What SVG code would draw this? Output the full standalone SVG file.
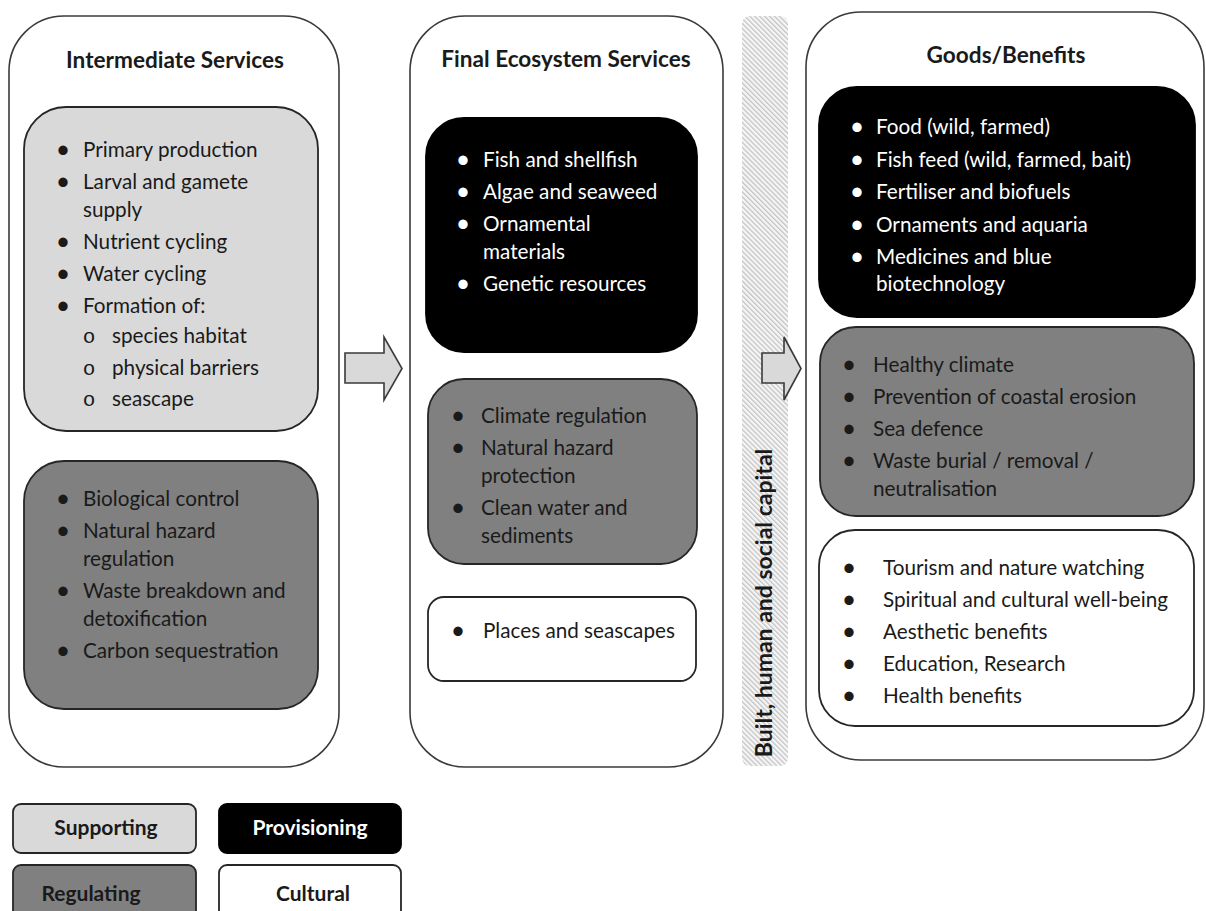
<svg xmlns="http://www.w3.org/2000/svg" width="1206" height="911" viewBox="0 0 1206 911">
<defs>
<pattern id="hatch" width="3.5" height="3.5" patternUnits="userSpaceOnUse" patternTransform="rotate(-45)">
<rect width="3.5" height="3.5" fill="#f6f6f6"/>
<rect width="1.3" height="3.5" fill="#c4c4c4"/>
</pattern>
<style>
.outer{fill:#ffffff;stroke:#3a3a3a;stroke-width:1.6}
.sup{fill:#d9d9d9;stroke:#262626;stroke-width:1.8}
.reg{fill:#808080;stroke:#262626;stroke-width:1.8}
.prov{fill:#000000;stroke:#000000;stroke-width:1.8}
.cult{fill:#ffffff;stroke:#262626;stroke-width:1.8}
.arrow{fill:#d9d9d9;stroke:#3a3a3a;stroke-width:1.6;stroke-linejoin:miter}
text{font-family:Lato,"Open Sans","Liberation Sans",sans-serif;font-size:20.7px;fill:#1a1a1a}
.title{font-weight:bold;font-size:22.6px;text-anchor:middle}
.w{fill:#ffffff}
.b{text-anchor:middle;font-size:25px}
.o{font-family:"Liberation Mono",monospace;font-size:21px;text-anchor:middle}
.leg{font-weight:bold;font-size:21px;text-anchor:middle}
</style>
</defs>
<rect width="1206" height="911" fill="#ffffff"/>

<g id="col-intermediate">
<rect class="outer" x="9" y="16" width="330" height="751" rx="55"/>
<text class="title" x="175" y="68">Intermediate Services</text>
</g>
<g id="col-final">
<rect class="outer" x="410" y="16" width="313" height="751" rx="55"/>
<text class="title" x="566" y="67">Final Ecosystem Services</text>
</g>
<g id="capital-bar">
<rect x="742" y="16" width="46" height="750" rx="8" fill="url(#hatch)"/>
<text x="772" y="603" transform="rotate(-90 772 603)" style="font-weight:bold;font-size:23px;text-anchor:middle">Built, human and social capital</text>
</g>
<g id="col-goods">
<rect class="outer" x="806" y="12" width="398" height="748" rx="55"/>
<text class="title" x="1006" y="63">Goods/Benefits</text>
</g>

<g id="int-supporting">
<rect class="sup" x="24" y="107" width="294" height="324" rx="42"/>
<text class="b" x="63" y="158">•</text><text x="83" y="157">Primary production</text>
<text class="b" x="63" y="190">•</text><text x="83" y="189">Larval and gamete</text>
<text x="83" y="217">supply</text>
<text class="b" x="63" y="250">•</text><text x="83" y="249">Nutrient cycling</text>
<text class="b" x="63" y="282">•</text><text x="83" y="281">Water cycling</text>
<text class="b" x="63" y="314">•</text><text x="83" y="313">Formation of:</text>
<text class="o" x="89" y="343">o</text><text x="112" y="343">species habitat</text>
<text class="o" x="89" y="375">o</text><text x="112" y="375">physical barriers</text>
<text class="o" x="89" y="406">o</text><text x="112" y="406">seascape</text>
</g>

<g id="int-regulating">
<rect class="reg" x="24" y="461" width="294" height="248" rx="40"/>
<text class="b" x="63" y="507">•</text><text x="83" y="506">Biological control</text>
<text class="b" x="63" y="539">•</text><text x="83" y="538">Natural hazard</text>
<text x="83" y="566">regulation</text>
<text class="b" x="63" y="599">•</text><text x="83" y="598">Waste breakdown and</text>
<text x="83" y="626">detoxification</text>
<text class="b" x="63" y="659">•</text><text x="83" y="658">Carbon sequestration</text>
</g>

<g id="fin-provisioning">
<rect class="prov" x="426" y="118" width="271" height="234" rx="38"/>
<text class="b w" x="463" y="168">•</text><text class="w" x="483" y="167">Fish and shellfish</text>
<text class="b w" x="463" y="200">•</text><text class="w" x="483" y="199">Algae and seaweed</text>
<text class="b w" x="463" y="232">•</text><text class="w" x="483" y="231">Ornamental</text>
<text class="w" x="483" y="259">materials</text>
<text class="b w" x="463" y="292">•</text><text class="w" x="483" y="291">Genetic resources</text>
</g>

<g id="fin-regulating">
<rect class="reg" x="428" y="379" width="269" height="185" rx="36"/>
<text class="b" x="458" y="424">•</text><text x="481" y="423">Climate regulation</text>
<text class="b" x="458" y="456">•</text><text x="481" y="455">Natural hazard</text>
<text x="481" y="483">protection</text>
<text class="b" x="458" y="516">•</text><text x="481" y="515">Clean water and</text>
<text x="481" y="543">sediments</text>
</g>

<g id="fin-cultural">
<rect class="cult" x="428" y="597" width="268" height="84" rx="16"/>
<text class="b" x="458" y="639">•</text><text x="483" y="638">Places and seascapes</text>
</g>

<g id="goods-provisioning">
<rect class="prov" x="819" y="87" width="376" height="230" rx="38"/>
<text class="b w" x="857" y="135">•</text><text class="w" x="876" y="134">Food (wild, farmed)</text>
<text class="b w" x="857" y="168">•</text><text class="w" x="876" y="167">Fish feed (wild, farmed, bait)</text>
<text class="b w" x="857" y="200">•</text><text class="w" x="876" y="199">Fertiliser and biofuels</text>
<text class="b w" x="857" y="233">•</text><text class="w" x="876" y="232">Ornaments and aquaria</text>
<text class="b w" x="857" y="265">•</text><text class="w" x="876" y="264">Medicines and blue</text>
<text class="w" x="876" y="291">biotechnology</text>
</g>

<g id="goods-regulating">
<rect class="reg" x="820" y="327" width="374" height="189" rx="36"/>
<text class="b" x="849" y="373">•</text><text x="873" y="372">Healthy climate</text>
<text class="b" x="849" y="405">•</text><text x="873" y="404">Prevention of coastal erosion</text>
<text class="b" x="849" y="437">•</text><text x="873" y="436">Sea defence</text>
<text class="b" x="849" y="469">•</text><text x="873" y="468">Waste burial / removal /</text>
<text x="873" y="496">neutralisation</text>
</g>

<g id="goods-cultural">
<rect class="cult" x="819" y="530" width="375" height="196" rx="36"/>
<text class="b" x="849" y="576">•</text><text x="883" y="575">Tourism and nature watching</text>
<text class="b" x="849" y="608">•</text><text x="883" y="607">Spiritual and cultural well-being</text>
<text class="b" x="849" y="640">•</text><text x="883" y="639">Aesthetic benefits</text>
<text class="b" x="849" y="672">•</text><text x="883" y="671">Education, Research</text>
<text class="b" x="849" y="704">•</text><text x="883" y="703">Health benefits</text>
</g>

<g id="connectors">
<polygon class="arrow" points="345,353 384,353 384,337 402,368.5 384,400 384,383 345,383"/>
<polygon class="arrow" points="762,353 784,353 784,337 801,368.5 784,400 784,383 762,383"/>
</g>

<g id="legend-supporting">
<rect class="sup" x="13" y="804" width="183" height="49" rx="8"/>
<text class="leg" x="106" y="835">Supporting</text>
</g>
<g id="legend-provisioning">
<rect class="prov" x="219" y="804" width="182" height="49" rx="8"/>
<text class="leg w" x="310" y="835">Provisioning</text>
</g>
<g id="legend-regulating">
<rect class="reg" x="13" y="865" width="183" height="60" rx="8"/>
<text class="leg" x="91" y="901">Regulating</text>
</g>
<g id="legend-cultural">
<rect class="cult" x="219" y="865" width="182" height="60" rx="8"/>
<text class="leg" x="313" y="901">Cultural</text>
</g>
</svg>
